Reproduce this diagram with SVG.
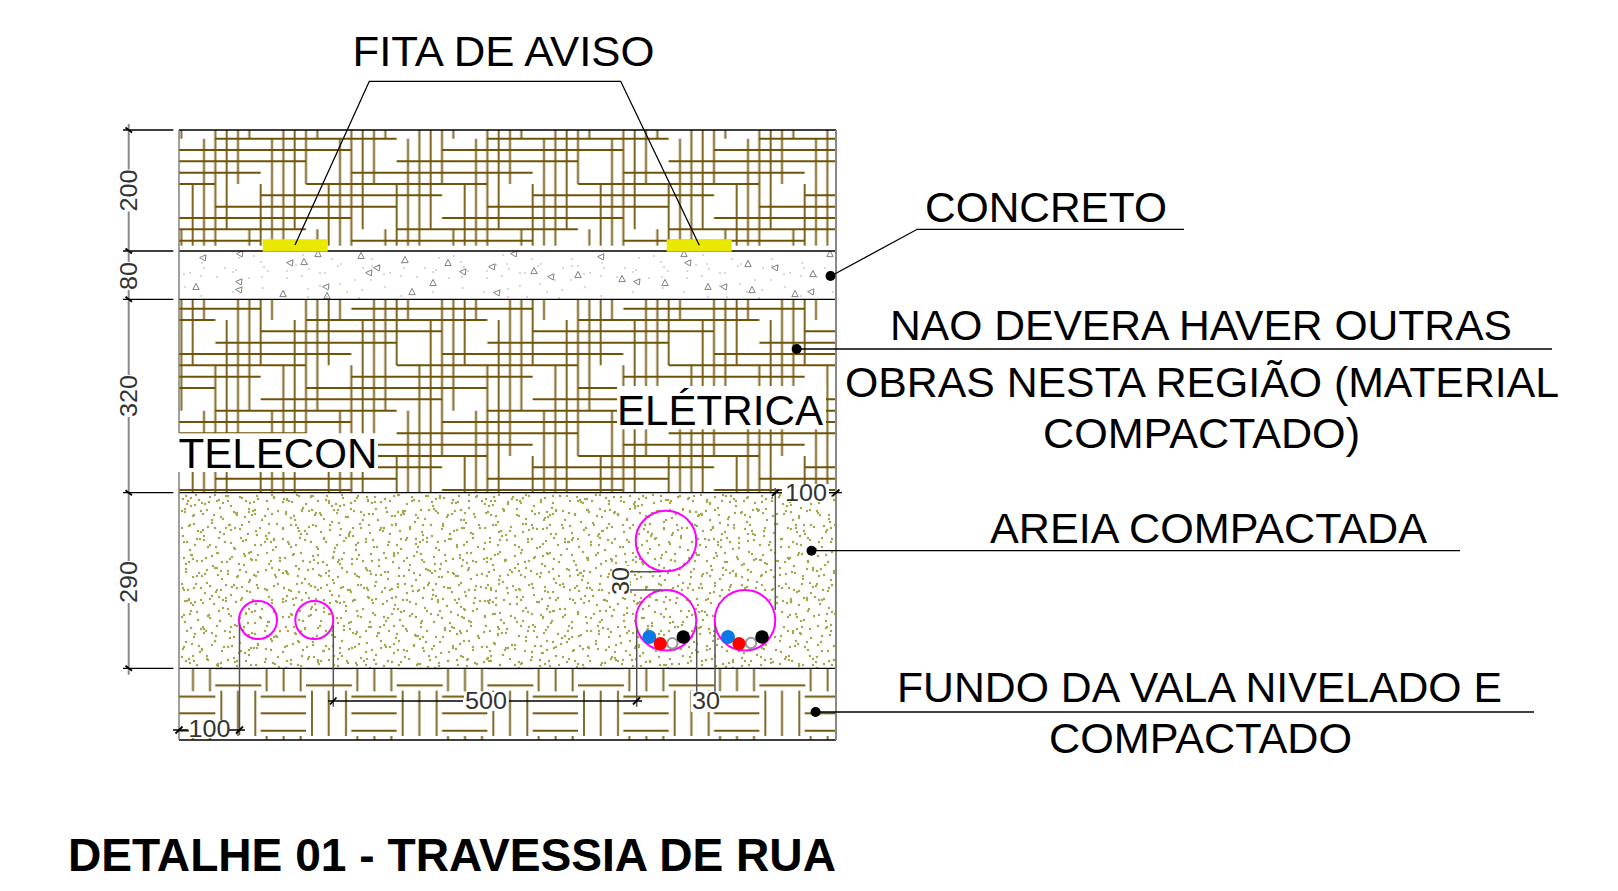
<svg xmlns="http://www.w3.org/2000/svg" width="1618" height="891" viewBox="0 0 1618 891">
<style>
text{font-family:"Liberation Sans",Arial,sans-serif}
.lbl{font-size:43px;fill:#000}
.dim{font-size:24px;fill:#333}
.ttl{font-size:46px;font-weight:bold;fill:#000}
.thin{stroke:#000;stroke-width:1.3;fill:none}
.ext{stroke:#555;stroke-width:1.5;fill:none}
.dl{stroke:#8a8a8a;stroke-width:2;fill:none}
.tick{stroke:#000;stroke-width:1.8;fill:none}
.pipe{stroke:#f0f;stroke-width:2;fill:none}
.dot{fill:#000}
.sd{fill:none;stroke:#a8a750;stroke-width:2.5;stroke-linecap:round}
</style>
<defs>
<pattern id="weave" patternUnits="userSpaceOnUse" x="0" y="0" width="24" height="24" patternTransform="translate(175.67 133) scale(11.3333)">
<path fill="none" stroke="#806620" stroke-width=".175" d="M.5 8.5V24M.5 0V.5M1.5 4.5V20.5M2.5 .5V16.5M3.5 20.5V24M3.5 0V12.5M4.5 16.5V24M4.5 0V8.5M5.5 12.5V24M5.5 0V4.5M6.5 8.5V24M6.5 0V.5M7.5 4.5V20.5M8.5 .5V16.5M9.5 20.5V24M9.5 0V12.5M10.5 16.5V24M10.5 0V8.5M11.5 12.5V24M11.5 0V4.5M12.5 8.5V24M12.5 0V.5M13.5 4.5V20.5M14.5 .5V16.5M15.5 20.5V24M15.5 0V12.5M16.5 16.5V24M16.5 0V8.5M17.5 12.5V24M17.5 0V4.5M18.5 8.5V24M18.5 0V.5M19.5 4.5V20.5M20.5 .5V16.5M21.5 20.5V24M21.5 0V12.5M22.5 16.5V24M22.5 0V8.5M23.5 12.5V24M23.5 0V4.5"/>
<path fill="none" stroke="#6f5408" stroke-width=".175" d="M3.5 .5H19.5M23.5 1.5H24M0 1.5H15.5M19.5 2.5H24M0 2.5H11.5M15.5 3.5H24M0 3.5H7.5M11.5 4.5H24M0 4.5H3.5M7.5 5.5H23.5M3.5 6.5H19.5M23.5 7.5H24M0 7.5H15.5M19.5 8.5H24M0 8.5H11.5M15.5 9.5H24M0 9.5H7.5M11.5 10.5H24M0 10.5H3.5M7.5 11.5H23.5M3.5 12.5H19.5M23.5 13.5H24M0 13.5H15.5M19.5 14.5H24M0 14.5H11.5M15.5 15.5H24M0 15.5H7.5M11.5 16.5H24M0 16.5H3.5M7.5 17.5H23.5M3.5 18.5H19.5M23.5 19.5H24M0 19.5H15.5M19.5 20.5H24M0 20.5H11.5M15.5 21.5H24M0 21.5H7.5M11.5 22.5H24M0 22.5H3.5M7.5 23.5H23.5"/>
</pattern>
<pattern id="basket" patternUnits="userSpaceOnUse" x="215.33" y="645.33" width="90.67" height="90.67">
<path fill="none" stroke="#74590f" stroke-width="2" d="M0 6H46M0 23H46M0 40H46M45.33 51.33H90.67M45.33 68H90.67M45.33 85.33H90.67"/>
<path fill="none" stroke="#80692a" stroke-width="2" d="M6 45.33V90.67M22.67 45.33V90.67M40 45.33V90.67M51.33 0V46M68.33 0V46M85.33 0V46"/>
</pattern>
<pattern id="sandA" patternUnits="userSpaceOnUse" x="179" y="492" width="101" height="89">
<path class="sd" d="M4 7h0M9 9h0M17 3h0M26 12h0M31 5h0M38 9h0M47 4h0M52 14h0M63 6h0M71 11h0M78 4h0M88 9h0M95 5h0M6 20h0M14 24h0M22 19h0M35 23h0M44 27h0M57 21h0M66 25h0M74 19h0M83 28h0M93 22h0M3 36h0M11 33h0M19 39h0M29 35h0M41 40h0M50 33h0M61 37h0M69 42h0M81 36h0M90 41h0M8 50h0M16 53h0M25 48h0M37 55h0M46 50h0M55 56h0M64 49h0M76 53h0M86 50h0M97 55h0M5 66h0M13 63h0M23 69h0M33 64h0M43 70h0M53 65h0M60 72h0M72 67h0M79 63h0M92 69h0M7 80h0M18 84h0M28 78h0M39 83h0M49 79h0M58 85h0M67 80h0M77 84h0M87 78h0M96 83h0"/>
</pattern>
<pattern id="sandB" patternUnits="userSpaceOnUse" x="179" y="492" width="127" height="73">
<path class="sd" d="M7 4h0M20 8h0M23 11h0M36 3h0M49 9h0M61 5h0M75 10h0M79 7h0M93 3h0M108 8h0M120 4h0M3 19h0M15 23h0M28 18h0M42 25h0M55 20h0M58 23h0M70 17h0M86 24h0M99 19h0M112 26h0M123 18h0M10 34h0M24 38h0M33 31h0M47 36h0M63 33h0M77 39h0M90 32h0M104 37h0M117 33h0M5 50h0M18 47h0M31 53h0M40 46h0M52 51h0M67 48h0M82 53h0M95 47h0M110 52h0M121 46h0M12 63h0M27 66h0M38 61h0M51 67h0M65 62h0M73 68h0M88 61h0M101 66h0M115 62h0"/>
</pattern>
<pattern id="sandC" patternUnits="userSpaceOnUse" x="179" y="492" width="83" height="113">
<path class="sd" d="M12 6h0M30 10h0M49 4h0M67 9h0M6 17h0M24 22h0M41 16h0M58 21h0M76 18h0M15 32h0M33 28h0M36 36h0M51 33h0M70 30h0M4 44h0M21 47h0M45 42h0M62 46h0M78 43h0M11 58h0M29 55h0M39 61h0M56 57h0M72 60h0M7 72h0M18 69h0M34 74h0M48 70h0M65 73h0M77 68h0M14 85h0M26 82h0M43 87h0M59 84h0M71 88h0M5 98h0M22 96h0M37 100h0M53 95h0M68 99h0M79 96h0M10 108h0M31 107h0M47 106h0M62 108h0"/>
</pattern>
<pattern id="sandD" patternUnits="userSpaceOnUse" x="179" y="492" width="149" height="97">
<path class="sd" d="M8 12h0M12 14h0M16 13h0M40 8h0M44 11h0M70 20h0M73 23h0M76 22h0M104 10h0M108 7h0M133 18h0M137 21h0M22 40h0M25 44h0M52 38h0M56 36h0M88 47h0M92 50h0M95 48h0M122 42h0M126 39h0M10 70h0M14 67h0M38 76h0M42 79h0M66 64h0M70 61h0M100 78h0M104 81h0M107 79h0M135 68h0M139 71h0"/>
</pattern>
<pattern id="grit" patternUnits="userSpaceOnUse" x="480" y="240" width="200" height="70">
<path fill="none" stroke="#a5a5a5" stroke-width="1.6" stroke-linecap="round" d="M23 15h0M52 19h0M61 24h0M58 26h0M16 25h0M27 24h0M7 31h0M29 29h0M40 33h0M45 33h0M22 36h0M7 38h0M83 28h0M92 19h0M92 26h0M98 26h0M104 34h0M110 33h0M122 23h0M121 36h0M124 28h0M91 40h0M75 40h0M60 44h0M40 46h0M28 49h0M4 52h0M67 52h0M82 50h0M105 47h0M47 57h0M28 57h0M79 58h0M121 56h0M137 37h0M145 28h0M153 32h0M156 30h0M159 18h0M174 16h0M181 22h0M184 27h0M188 31h0M169 38h0M182 37h0M153 52h0M183 48h0"/>
</pattern>
<path id="tri" d="M0 -3.6L3.2 2.6H-3.2Z" fill="none" stroke="#808080" stroke-width="1"/>
<path id="trl" d="M-3.4 -.4L3 -3.2L2.2 3Z" fill="none" stroke="#808080" stroke-width="1"/>
<clipPath id="sandClip"><rect x="180" y="493" width="655.5" height="175"/></clipPath>
</defs>
<rect width="1618" height="891" fill="#fff"/>

<g id="layer-surface"><rect x="179" y="130" width="657" height="115.7" fill="url(#weave)"/></g>

<g id="layer-concrete">
<rect x="179" y="252" width="657" height="47" fill="url(#grit)"/>
<g>
<use href="#trl" x="203" y="258"/><use href="#trl" x="240" y="254"/><use href="#trl" x="290" y="263"/><use href="#tri" x="304" y="262"/><use href="#tri" x="318" y="254"/><use href="#tri" x="361" y="256"/><use href="#trl" x="369" y="273"/><use href="#trl" x="377" y="268"/><use href="#tri" x="405" y="260"/><use href="#tri" x="448" y="263"/><use href="#trl" x="463" y="272"/><use href="#trl" x="492" y="267"/><use href="#tri" x="196" y="287"/><use href="#trl" x="239" y="282"/><use href="#trl" x="239" y="290"/><use href="#tri" x="283" y="294"/><use href="#trl" x="326" y="287"/><use href="#tri" x="327" y="296"/><use href="#tri" x="412" y="292"/><use href="#tri" x="433" y="283"/><use href="#trl" x="497" y="293"/><use href="#trl" x="514" y="254"/><use href="#tri" x="534" y="271"/><use href="#trl" x="551" y="277"/><use href="#tri" x="578" y="275"/><use href="#trl" x="601" y="257"/><use href="#tri" x="622" y="279"/><use href="#trl" x="637" y="282"/><use href="#tri" x="665" y="283"/><use href="#tri" x="684" y="254"/><use href="#trl" x="688" y="263"/><use href="#tri" x="748" y="264"/><use href="#trl" x="775" y="268"/><use href="#tri" x="813" y="274"/><use href="#tri" x="708" y="287"/><use href="#trl" x="724" y="287"/><use href="#tri" x="752" y="290"/><use href="#tri" x="795" y="294"/><use href="#trl" x="811" y="292"/><use href="#tri" x="830" y="254"/>
</g>
</g>

<g id="layer-backfill"><rect x="179" y="299.3" width="657" height="193.4" fill="url(#weave)"/></g>

<g id="layer-sand" clip-path="url(#sandClip)">
<rect x="179" y="493" width="657" height="175.3" fill="url(#sandA)"/>
<rect x="179" y="493" width="657" height="175.3" fill="url(#sandB)"/>
<rect x="179" y="493" width="657" height="175.3" fill="url(#sandC)"/>
<rect x="179" y="493" width="657" height="175.3" fill="url(#sandD)"/>
</g>

<g id="layer-base"><rect x="179" y="668.3" width="657" height="71.7" fill="url(#basket)"/></g>

<g id="borders">
<path class="thin" d="M179 130H836M179 251H836M179 299.3H836M179 492.7H836M179 668.3H836M179 740H836"/>
<path d="M179 130V740" stroke="#777" stroke-width="1.4" fill="none"/>
<path d="M836 130V740" stroke="#888" stroke-width="2" fill="none"/>
</g>

<g id="warning-tape">
<rect x="262.7" y="239.3" width="65" height="12.4" fill="#e8e800"/>
<rect x="666.7" y="239.3" width="65" height="12.4" fill="#e8e800"/>
</g>

<g id="pipes">
<circle class="pipe" cx="258" cy="620" r="19"/>
<circle class="pipe" cx="314.3" cy="620" r="19"/>
<circle class="pipe" cx="666" cy="541" r="30.3"/>
<circle class="pipe" cx="666" cy="620.3" r="30.3"/>
<circle class="pipe" cx="745" cy="620.3" r="30.3" style="fill:#fff"/>
</g>
<g id="cables-1">
<circle cx="649.3" cy="637" r="7" fill="#0a78e6"/><circle cx="672.3" cy="643.3" r="5.2" fill="#fff" stroke="#999" stroke-width="2"/><circle cx="660.3" cy="643.7" r="6.6" fill="#f00"/><circle cx="683.3" cy="637" r="6.8" fill="#000"/>
</g>
<g id="cables-2">
<circle cx="728" cy="637" r="7" fill="#0a78e6"/><circle cx="751" cy="643" r="5.2" fill="#fff" stroke="#999" stroke-width="2"/><circle cx="739" cy="643.7" r="6.6" fill="#f00"/><circle cx="762" cy="637" r="6.8" fill="#000"/>
</g>

<g id="masks" fill="#fff">
<rect x="178" y="433.3" width="200" height="38.7"/>
<rect x="617" y="386" width="209" height="43.3"/>
<rect x="782" y="484" width="47" height="18"/>
<rect x="612" y="566" width="18" height="30"/>
<rect x="691" y="691" width="29" height="21"/>
<rect x="464" y="692" width="44" height="19"/>
<rect x="189" y="720" width="40" height="18"/>
</g>

<g id="connectors">
<path class="thin" d="M295 245L369.3 81.3H620.7L699.3 245.3"/>
<path class="thin" d="M831 276L917.2 229.3H1184"/>
<path class="thin" d="M796.7 349H1552"/>
<path class="thin" d="M811.5 550.7H1460"/>
<path class="thin" d="M815.6 712H1534"/>
<circle class="dot" cx="830.5" cy="276" r="5"/>
<circle class="dot" cx="796.7" cy="349" r="5"/>
<circle class="dot" cx="811.5" cy="550.7" r="5"/>
<circle class="dot" cx="815.6" cy="712" r="5"/>
</g>

<g id="dimensions">
<path class="thin" d="M123 130H173.3M123 251H173.3M123 299.3H173.3M123 492.7H173.3M123 668.3H173.3"/>
<path class="dl" d="M128.7 124V169.5M128.7 211.5V262M128.7 290V375M128.7 417V561M128.7 603V674.7"/>
<path class="tick" d="M125.5 127.5L132 132.5M125.5 248.5L132 253.5M125.5 296.8L132 301.8M125.5 490.2L132 495.2M125.5 665.8L132 670.8"/>
<path class="ext" d="M775.3 488V610M239.5 623V735M333.3 625V706.7M636.7 626.7V706.7M696.7 625.7V691.7M715 625V691.7M630 571.7H661.7M630 590H661.7"/>
<path class="thin" d="M770 492.7H782M829 492.7H842M173 730H188M228 730H245M328 701H463M509 701H642"/>
<path class="tick" d="M772 496L779 489.5M832.5 496L839.5 489.5M175.5 733.5L182.5 726.5M236 733.5L243 726.5M330 704.5L336.5 697.5M633 704.5L640 697.5"/>
</g>

<g id="dim-labels">
<text class="dim" transform="translate(137.3 211.5) rotate(-90)" textLength="42" lengthAdjust="spacingAndGlyphs">200</text>
<text class="dim" transform="translate(137.3 290) rotate(-90)" textLength="28" lengthAdjust="spacingAndGlyphs">80</text>
<text class="dim" transform="translate(137.3 417) rotate(-90)" textLength="42" lengthAdjust="spacingAndGlyphs">320</text>
<text class="dim" transform="translate(137.3 603) rotate(-90)" textLength="42" lengthAdjust="spacingAndGlyphs">290</text>
<text class="dim" transform="translate(629.3 595) rotate(-90)" textLength="28" lengthAdjust="spacingAndGlyphs">30</text>
<text class="dim" x="785" y="500.7" textLength="42" lengthAdjust="spacingAndGlyphs">100</text>
<text class="dim" x="188.5" y="736.7" textLength="42" lengthAdjust="spacingAndGlyphs">100</text>
<text class="dim" x="465" y="709.3" textLength="42" lengthAdjust="spacingAndGlyphs">500</text>
<text class="dim" x="692" y="709.3" textLength="28" lengthAdjust="spacingAndGlyphs">30</text>
</g>

<g id="labels">
<text class="lbl" x="352.5" y="66.2" textLength="302" lengthAdjust="spacingAndGlyphs">FITA DE AVISO</text>
<text class="lbl" x="925" y="222.2" textLength="242" lengthAdjust="spacingAndGlyphs">CONCRETO</text>
<text class="lbl" x="617" y="425" textLength="206" lengthAdjust="spacingAndGlyphs">ELÉTRICA</text>
<text class="lbl" x="178.5" y="467.7" textLength="199" lengthAdjust="spacingAndGlyphs">TELECON</text>
<text class="lbl" x="890" y="340.2" textLength="622" lengthAdjust="spacingAndGlyphs">NAO DEVERA HAVER OUTRAS</text>
<text class="lbl" x="845" y="397.2" textLength="714" lengthAdjust="spacingAndGlyphs">OBRAS NESTA REGIÃO (MATERIAL</text>
<text class="lbl" x="1043" y="448" textLength="317" lengthAdjust="spacingAndGlyphs">COMPACTADO)</text>
<text class="lbl" x="990" y="543" textLength="437" lengthAdjust="spacingAndGlyphs">AREIA COMPACTADA</text>
<text class="lbl" x="897" y="702" textLength="605" lengthAdjust="spacingAndGlyphs">FUNDO DA VALA NIVELADO E</text>
<text class="lbl" x="1049" y="753" textLength="303" lengthAdjust="spacingAndGlyphs">COMPACTADO</text>
<text class="ttl" x="68" y="870.5" textLength="768" lengthAdjust="spacingAndGlyphs">DETALHE 01 - TRAVESSIA DE RUA</text>
</g>
</svg>
